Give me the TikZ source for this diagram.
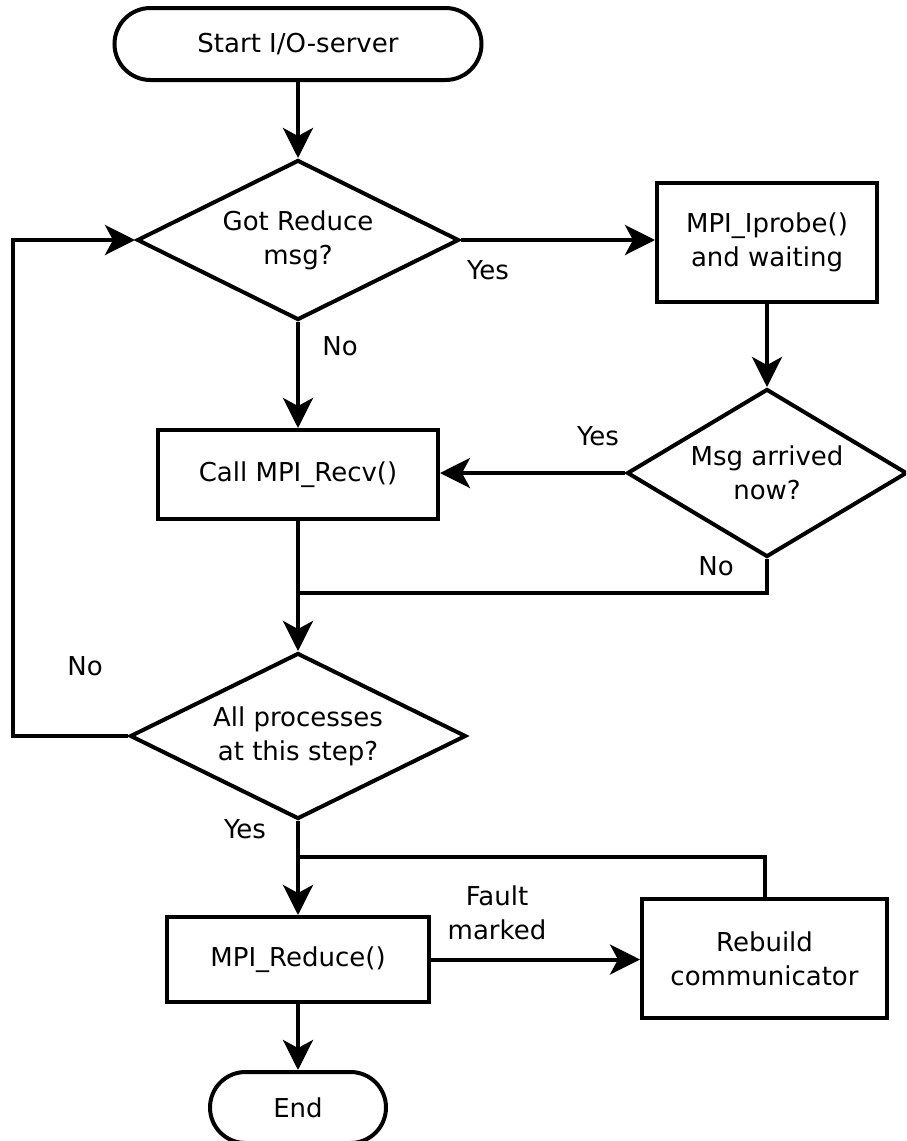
\documentclass[tikz,border=0pt]{standalone}
\usepackage{fontspec}
\setmainfont{DejaVu Sans}
\usetikzlibrary{shapes.geometric,shapes.misc,arrows.meta}
\begin{document}
\begin{tikzpicture}[x=1pt,y=-1pt, line width=4pt,
  every node/.style={font=\fontsize{26}{34}\selectfont, inner sep=0pt},
  box/.style={draw, rectangle, align=center},
  dec/.style={draw, diamond, align=center},
  term/.style={draw, rounded rectangle, align=center},
  arr/.style={-{Stealth[length=30pt,width=30pt,inset=8pt]}},
  lbl/.style={anchor=base}]
\clip (0,0) rectangle (906,1141);
\fill[white] (0,0) rectangle (906,1141);
% nodes
\node[term, minimum width=367pt, minimum height=72pt] (start) at (298,44) {Start I/O-server};
\node[dec, aspect=2, minimum width=322pt, minimum height=160pt] (d1) at (298,240) {Got Reduce\\msg?};
\node[box, minimum width=220pt, minimum height=119pt] (probe) at (767,242.5) {MPI\_Iprobe()\\and waiting};
\node[dec, aspect=1.67, minimum width=280pt, minimum height=168pt] (d2) at (767,473) {Msg arrived\\now?};
\node[box, minimum width=280pt, minimum height=89pt] (call) at (298,474.5) {Call MPI\_Recv()};
\node[dec, aspect=2, minimum width=336pt, minimum height=166pt] (d3) at (298,736) {All processes\\at this step?};
\node[box, minimum width=262pt, minimum height=85pt] (reduce) at (298,959.5) {MPI\_Reduce()};
\node[box, minimum width=245pt, minimum height=119pt] (rebuild) at (764.5,958.5) {Rebuild\\communicator};
\node[term, minimum width=176pt, minimum height=71pt] (end) at (298,1107.5) {End};
% helper coordinates
\coordinate (j1) at (298,593);
\coordinate (lp) at (13,736);
\coordinate (j2) at (298,857);
% connectors
\draw[arr] (start.south) -- (d1.north);
\draw[arr] (d1.east) -- (d1.east -| probe.west);
\draw[arr] (probe.south) -- (d2.north);
\draw[arr] (d2.west) -- (d2.west -| call.east);
\draw[arr] (d1.south) -- (call.north);
\draw[arr] (call.south) -- (d3.north);
\draw (d2.south) |- (j1);
\draw[arr] (d3.west) -- (lp) |- (d1.west);
\draw[arr] (d3.south) -- (reduce.north);
\draw (rebuild.north) |- (j2);
\draw[arr] (reduce.east) -- (reduce.east -| rebuild.west);
\draw[arr] (reduce.south) -- (end.north);
% labels
\node[lbl] (y1) at (488,279) {Yes};
\node[lbl] (n1) at (340,355) {No};
\node[lbl] (y2) at (598,445) {Yes};
\node[lbl] (n2) at (716,575) {No};
\node[lbl] (n3) at (85,675) {No};
\node[lbl] (y3) at (245,838) {Yes};
\node[align=center] (fm) at (497,913) {Fault\\marked};
\end{tikzpicture}
\end{document}
